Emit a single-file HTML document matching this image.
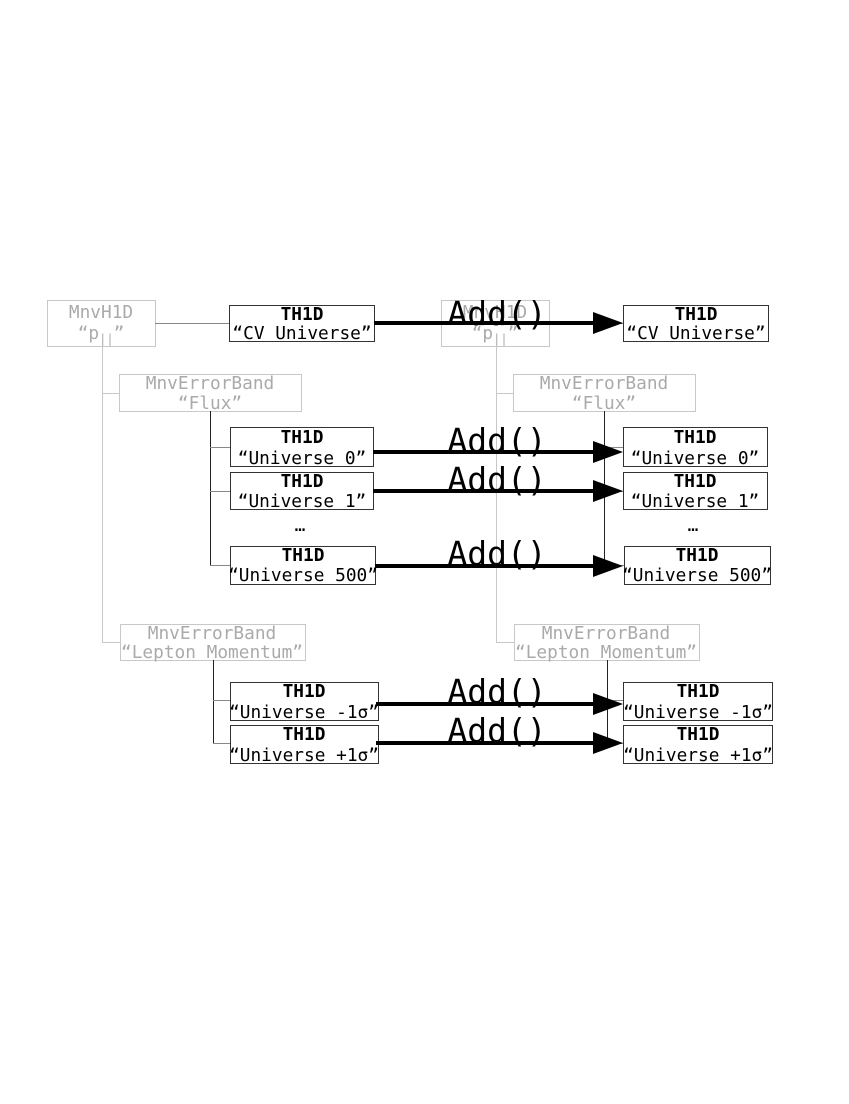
<!DOCTYPE html>
<html><head><meta charset="utf-8"><style>html,body{margin:0;padding:0;background:#fff}</style></head><body>
<svg width="849" height="1099" viewBox="0 0 849 1099" xmlns="http://www.w3.org/2000/svg" font-family="DejaVu Sans Mono, Liberation Mono, monospace" font-size="17.8">
<defs>
<g id="tree">
  <rect x="47.5" y="300.5" width="108" height="46" fill="none" stroke="#c8c8c8"/>
  <text x="101" y="318" text-anchor="middle" fill="#aaa">MnvH1D</text>
  <text x="101" y="339" text-anchor="middle" fill="#aaa">“p<tspan font-size="12" dy="4">||</tspan><tspan dy="-4">”</tspan></text>
  <line x1="155" y1="323.5" x2="230" y2="323.5" stroke="#888"/>
  <line x1="102.5" y1="346" x2="102.5" y2="643" stroke="#c8c8c8"/>
  <line x1="102" y1="393.5" x2="120" y2="393.5" stroke="#c8c8c8"/>
  <rect x="119.5" y="374.5" width="182" height="37" fill="none" stroke="#c8c8c8"/>
  <text x="210" y="389" text-anchor="middle" fill="#aaa">MnvErrorBand</text>
  <text x="210" y="409" text-anchor="middle" fill="#aaa">“Flux”</text>
  <line x1="210.5" y1="411" x2="210.5" y2="565" stroke="#222"/>
  <line x1="210" y1="447.5" x2="230" y2="447.5" stroke="#888"/>
  <line x1="210" y1="491.5" x2="230" y2="491.5" stroke="#888"/>
  <line x1="210" y1="565.5" x2="230" y2="565.5" stroke="#888"/>
  <line x1="102" y1="642.5" x2="120" y2="642.5" stroke="#c8c8c8"/>
  <rect x="120.5" y="624.5" width="185" height="36" fill="none" stroke="#c8c8c8"/>
  <text x="212" y="639" text-anchor="middle" fill="#aaa">MnvErrorBand</text>
  <text x="212" y="658" text-anchor="middle" fill="#aaa">“Lepton Momentum”</text>
  <line x1="213.5" y1="660" x2="213.5" y2="744" stroke="#222"/>
  <line x1="213" y1="700.5" x2="230" y2="700.5" stroke="#888"/>
  <line x1="213" y1="743.5" x2="230" y2="743.5" stroke="#888"/>
</g>
</defs>
<use href="#tree"/>
<use href="#tree" transform="translate(394,0)"/>

<g fill="#fff" stroke="#333">
  <rect x="229.5" y="305.5" width="145" height="36"/>
  <rect x="230.5" y="427.5" width="143" height="39"/>
  <rect x="230.5" y="472.5" width="143" height="37"/>
  <rect x="230.5" y="546.5" width="145" height="38"/>
  <rect x="230.5" y="682.5" width="148" height="38"/>
  <rect x="230.5" y="725.5" width="148" height="38"/>
  <rect x="623.5" y="305.5" width="145" height="36"/>
  <rect x="623.5" y="427.5" width="144" height="39"/>
  <rect x="623.5" y="472.5" width="144" height="37"/>
  <rect x="624.5" y="546.5" width="146" height="38"/>
  <rect x="623.5" y="682.5" width="149" height="38"/>
  <rect x="623.5" y="725.5" width="149" height="38"/>
</g>
<g text-anchor="middle" fill="#000">
  <text x="302" y="320" font-weight="bold">TH1D</text><text x="302" y="339">“CV Universe”</text>
  <text x="302" y="443" font-weight="bold">TH1D</text><text x="302" y="464">“Universe 0”</text>
  <text x="302" y="487" font-weight="bold">TH1D</text><text x="302" y="507">“Universe 1”</text>
  <text x="300" y="531">…</text>
  <text x="303" y="561" font-weight="bold">TH1D</text><text x="303" y="581">“Universe 500”</text>
  <text x="304" y="697" font-weight="bold">TH1D</text><text x="304" y="718">“Universe -1σ”</text>
  <text x="304" y="740" font-weight="bold">TH1D</text><text x="304" y="761">“Universe +1σ”</text>

  <text x="696" y="320" font-weight="bold">TH1D</text><text x="696" y="339">“CV Universe”</text>
  <text x="695" y="443" font-weight="bold">TH1D</text><text x="695" y="464">“Universe 0”</text>
  <text x="695" y="487" font-weight="bold">TH1D</text><text x="695" y="507">“Universe 1”</text>
  <text x="693" y="531">…</text>
  <text x="697" y="561" font-weight="bold">TH1D</text><text x="697" y="581">“Universe 500”</text>
  <text x="698" y="697" font-weight="bold">TH1D</text><text x="698" y="718">“Universe -1σ”</text>
  <text x="698" y="740" font-weight="bold">TH1D</text><text x="698" y="761">“Universe +1σ”</text>
</g>
<g stroke="#000" stroke-width="4">
  <line x1="374" y1="323" x2="596" y2="323"/>
  <line x1="373" y1="452" x2="596" y2="452"/>
  <line x1="373" y1="491" x2="596" y2="491"/>
  <line x1="375" y1="566" x2="596" y2="566"/>
  <line x1="376" y1="704" x2="596" y2="704"/>
  <line x1="376" y1="743" x2="596" y2="743"/>
</g>
<g fill="#000">
  <polygon points="593,312 623,323 593,334"/>
  <polygon points="593,441 623,452 593,463"/>
  <polygon points="593,480 623,491 593,502"/>
  <polygon points="593,555 623,566 593,577"/>
  <polygon points="593,693 623,704 593,715"/>
  <polygon points="593,732 623,743 593,754"/>
</g>
<g text-anchor="middle" font-size="33" fill="#000">
  <text x="497" y="325">Add()</text>
  <text x="497" y="452">Add()</text>
  <text x="497" y="491">Add()</text>
  <text x="497" y="565">Add()</text>
  <text x="497" y="703">Add()</text>
  <text x="497" y="742">Add()</text>
</g>
</svg>
</body></html>
